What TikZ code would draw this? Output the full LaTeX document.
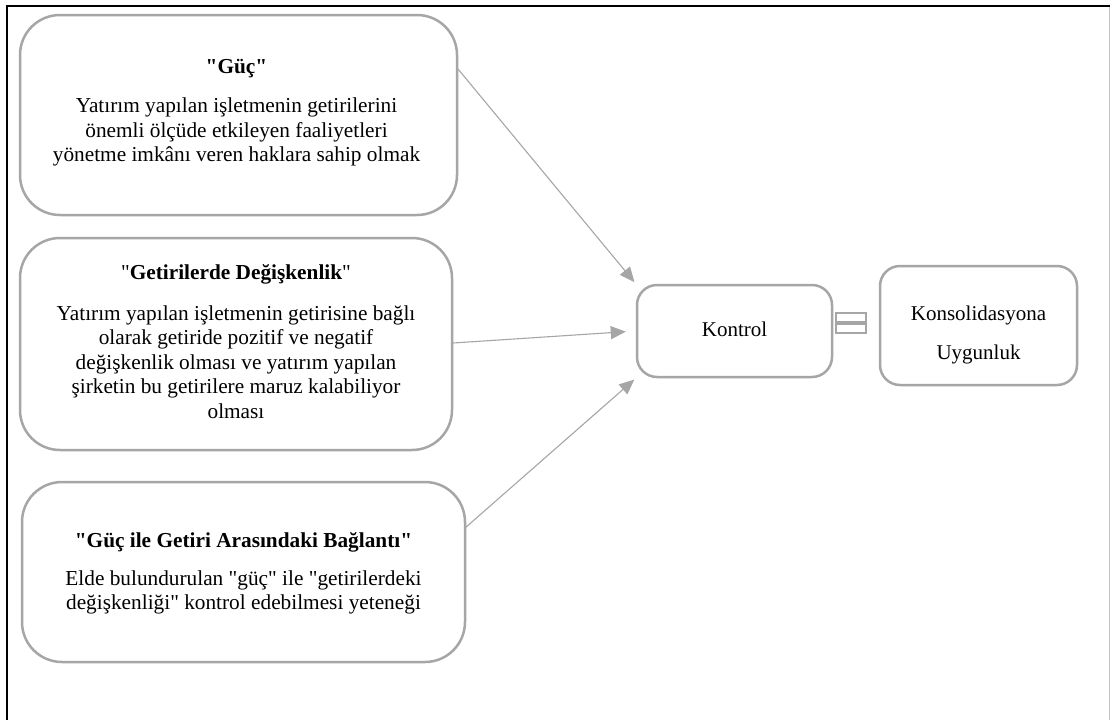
\documentclass[tikz,border=0pt]{standalone}
\usepackage{fontspec}
\setmainfont{Liberation Serif}[Ligatures=TeXOff]
\usetikzlibrary{arrows.meta}
\definecolor{boxgray}{HTML}{A6A6A6}
\tikzset{
  card/.style={draw=boxgray, line width=2.5pt, fill=white, inner sep=0pt},
  bigcard/.style={card, rounded corners=40pt},
  smallcard/.style={card, rounded corners=20pt},
  cardtext/.style={inner sep=0pt, align=center, font=\fontsize{21.3}{24.5}\selectfont},
  eqbar/.style={draw=boxgray, line width=2.2pt, fill=white},
  link/.style={draw=boxgray, line width=1.1pt, -{Triangle[length=15pt,width=13pt]}},
  frameblack/.style={draw=black, line width=2.2pt},
  framegray/.style={draw=boxgray!70, line width=1pt}
}
\begin{document}
\begin{tikzpicture}[x=1pt,y=-1pt]
\useasboundingbox (0,0) rectangle (1110,720);
\fill[white] (0,0) rectangle (1110,720);
\draw[frameblack] (7,720) -- (7,6) -- (1110,6);
\draw[framegray] (1109,7) -- (1109,720);

\node[bigcard, minimum width=437pt, minimum height=200pt] (guc) at (238.5,115) {};
\node[cardtext] (gucT) at ([xshift=-2pt,yshift=2.5pt]guc.center)
  {\textbf{"Güç"}\\[15pt]
   Yatırım yapılan işletmenin getirilerini\\
   önemli ölçüde etkileyen faaliyetleri\\
   yönetme imkânı veren haklara sahip olmak};

\node[bigcard, minimum width=432pt, minimum height=212pt] (deg) at (236,344) {};
\node[cardtext] (degT) at ([yshift=2.5pt]deg.center)
  {"\textbf{Getirilerde Değişkenlik}"\\[16pt]
   Yatırım yapılan işletmenin getirisine bağlı\\
   olarak getiride pozitif ve negatif\\
   değişkenlik olması ve yatırım yapılan\\
   şirketin bu getirilere maruz kalabiliyor\\
   olması};

\node[bigcard, minimum width=443pt, minimum height=180pt] (bag) at (243.5,572) {};
\node[cardtext] (bagT) at ([yshift=-1.5pt]bag.center)
  {\textbf{"Güç ile Getiri Arasındaki Bağlantı"}\\[13pt]
   Elde bulundurulan "güç" ile "getirilerdeki\\
   değişkenliği" kontrol edebilmesi yeteneği};

\node[smallcard, minimum width=195pt, minimum height=92pt] (kontrol) at (734.5,331) {};
\node[cardtext, font=\fontsize{21}{24}\selectfont] (kontrolT) at ([yshift=2pt]kontrol.center) {Kontrol};

\node[smallcard, minimum width=197pt, minimum height=119pt] (kons) at (978.5,325.5) {};
\node[cardtext, font=\fontsize{21}{24}\selectfont] (konsT) at ([yshift=-9pt]kons.center)
  {Konsolidasyona\\[15pt] Uygunluk};

\draw[eqbar] (836,313) rectangle (866,322);
\draw[eqbar] (836,324) rectangle (866,333);

\coordinate (s1) at (458,69);
\coordinate (s2) at (453,343);
\coordinate (s3) at (465,528);
\draw[link, shorten >=2pt] (s1) -- (kontrol.north west);
\draw[link, shorten >=10pt] (s2) -- (kontrol.west);
\draw[link, shorten >=2pt] (s3) -- (kontrol.south west);
\end{tikzpicture}
\end{document}
